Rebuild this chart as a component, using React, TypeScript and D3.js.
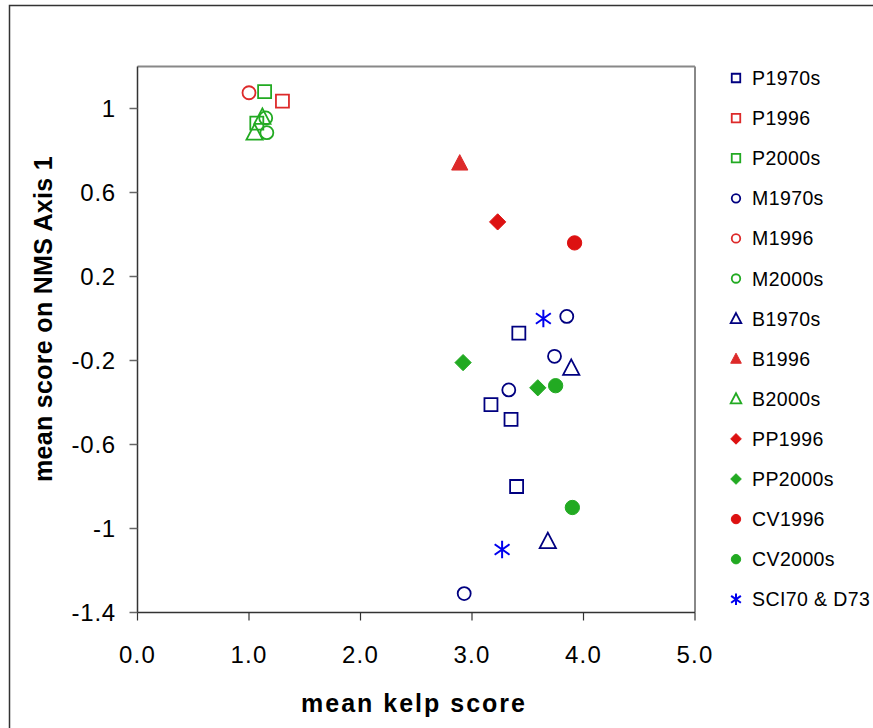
import React from "react";
import * as d3 from "d3";

const seriesNames = ["P1970s","P1996","P2000s","M1970s","M1996","M2000s","B1970s","B1996","B2000s","PP1996","PP2000s","CV1996","CV2000s","SCI70 & D73"];
const seriesShapes = ["square","square","square","circle","circle","circle","triangle","triangle","triangle","diamond","diamond","circle","circle","star"];
const seriesFilled = [false,false,false,false,false,false,false,true,false,true,true,true,true,false];
const seriesColors = ["#000080","#dd2a2a","#22aa22","#000080","#dd2a2a","#22aa22","#000080","#dd2a2a","#22aa22","#dd1111","#22aa22","#dd1111","#22aa22","#0000ee"];
const seriesX = [
  [3.42, 3.17, 3.35, 3.40],
  [1.30],
  [1.14, 1.07],
  [3.85, 3.74, 3.33, 2.93],
  [1.00],
  [1.15, 1.16],
  [3.89, 3.68],
  [2.89],
  [1.12, 1.05],
  [3.23],
  [2.92, 3.59],
  [3.92],
  [3.75, 3.90],
  [3.64, 3.27],
];
const seriesY = [
  [-0.07, -0.41, -0.48, -0.80],
  [1.035],
  [1.08, 0.93],
  [0.01, -0.18, -0.34, -1.31],
  [1.075],
  [0.955, 0.885],
  [-0.235, -1.06],
  [0.74],
  [0.96, 0.885],
  [0.46],
  [-0.21, -0.33],
  [0.36],
  [-0.32, -0.90],
  [0.0, -1.10],
];
const xTicks = [0, 1, 2, 3, 4, 5];
const yTicks = [1, 0.6, 0.2, -0.2, -0.6, -1, -1.4];
const xTitle = "mean kelp score";
const yTitle = "mean score on NMS Axis 1";

const W = 873, H = 728;
const plot = { left: 137.5, right: 695, top: 66.5, bottom: 612.5 };
const FONT = "'Liberation Sans', Arial, sans-serif";

function markerPath(shape: string, s: number): string {
  if (shape === "square") return d3.symbol(d3.symbolSquare, s * s)() as string;
  if (shape === "circle") return d3.symbol(d3.symbolCircle, Math.PI * (s / 2) ** 2)() as string;
  if (shape === "triangle") {
    const h = s * 0.95;
    return `M0,${-h * 0.55}L${s / 2},${h * 0.45}L${-s / 2},${h * 0.45}Z`;
  }
  if (shape === "diamond") {
    const r = s / 2;
    return `M0,${-r}L${r},0L0,${r}L${-r},0Z`;
  }
  // star: vertical line + X
  const r = s / 2;
  const dx = r * 0.85, dy = r * 0.6;
  return `M0,${-r}L0,${r}M${-dx},${-dy}L${dx},${dy}M${-dx},${dy}L${dx},${-dy}`;
}

function Marker({ shape, filled, color, x, y, size }: any) {
  const sz = shape === "diamond" ? size * 1.25 : shape === "triangle" ? size * 1.25 : shape === "star" ? size * 1.35 : shape === "circle" && filled ? size * 1.1 : size;
  return (
    <path
      d={markerPath(shape, sz)}
      transform={`translate(${x},${y})`}
      fill={filled ? color : "none"}
      stroke={color}
      strokeWidth={shape === "star" ? 2 : filled ? 1 : 1.8}
      strokeLinejoin="miter"
    />
  );
}

export default function App() {
  const xs = d3.scaleLinear().domain([0, 5]).range([plot.left, plot.right]);
  const ys = d3.scaleLinear().domain([-1.4, 1.2]).range([plot.bottom, plot.top]);
  const fmtX = d3.format(".1f");
  const fmtY = (v: number) => (Math.abs(v - Math.round(v)) < 1e-9 ? String(Math.round(v)) : String(v));

  return (
    <svg width={W} height={H} style={{ position: "absolute", left: 0, top: 0, background: "#fff" }} fontFamily={FONT}>
      <rect x={0} y={0} width={W} height={H} fill="#fff" />
      <rect x={9.5} y={5.5} width={W + 50} height={H + 50} fill="none" stroke="#333" strokeWidth={1.5} />
      {/* plot frame */}
      <line x1={plot.left} x2={plot.right} y1={plot.top} y2={plot.top} stroke="#888" strokeWidth={2} />
      <line x1={plot.right} x2={plot.right} y1={plot.top} y2={plot.bottom} stroke="#888" strokeWidth={2} />
      <line x1={plot.left} x2={plot.left} y1={plot.top} y2={plot.bottom} stroke="#333" strokeWidth={1.5} />
      <line x1={plot.left} x2={plot.right} y1={plot.bottom} y2={plot.bottom} stroke="#333" strokeWidth={1.5} />
      {/* y ticks */}
      {yTicks.map((t) => (
        <g key={"y" + t}>
          <line x1={plot.left - 8} x2={plot.left} y1={ys(t)} y2={ys(t)} stroke="#666" strokeWidth={1.5} />
          <text x={116} y={ys(t)} dy="0.36em" textAnchor="end" fontSize={24} letterSpacing={0.8} fill="#000">
            {fmtY(t)}
          </text>
        </g>
      ))}
      {/* x ticks */}
      {xTicks.map((t) => (
        <g key={"x" + t}>
          <line x1={xs(t)} x2={xs(t)} y1={plot.bottom} y2={plot.bottom + 8} stroke="#333" strokeWidth={1.2} />
          <text x={xs(t)} y={654} dy="0.36em" textAnchor="middle" fontSize={24} letterSpacing={1.2} fill="#000">
            {fmtX(t)}
          </text>
        </g>
      ))}
      {/* titles */}
      <text x={414} y={712} textAnchor="middle" fontSize={25} fontWeight="bold" letterSpacing={2} fill="#000">
        {xTitle}
      </text>
      <text transform={`translate(52,319) rotate(-90)`} textAnchor="middle" fontSize={25} fontWeight="bold" letterSpacing={0.3} fill="#000">
        {yTitle}
      </text>
      {/* points */}
      {seriesNames.map((name, i) => (
        <g key={name}>
          {seriesX[i].map((vx, j) => (
            <Marker key={j} shape={seriesShapes[i]} filled={seriesFilled[i]} color={seriesColors[i]} x={xs(vx)} y={ys(seriesY[i][j])} size={13} />
          ))}
        </g>
      ))}
      {/* legend */}
      {seriesNames.map((name, i) => {
        const cy = 78 + i * 40.1;
        return (
          <g key={"lg" + name}>
            <Marker shape={seriesShapes[i]} filled={seriesFilled[i]} color={seriesColors[i]} x={736} y={cy} size={8.5} />
            <text x={752} y={cy} dy="0.36em" fontSize={19.5} letterSpacing={0.4} fill="#000">
              {name}
            </text>
          </g>
        );
      })}
    </svg>
  );
}
